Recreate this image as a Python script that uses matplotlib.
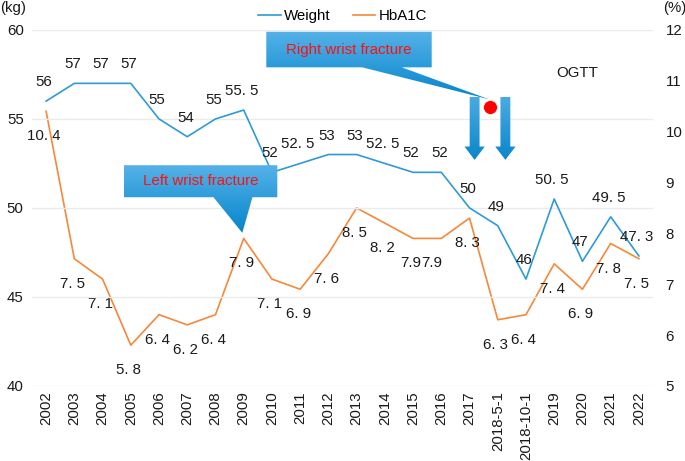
import numpy as np
from matplotlib import pyplot as plt
from matplotlib.colors import LinearSegmentedColormap
from matplotlib.lines import Line2D
from matplotlib.patches import FancyArrow, Polygon

plt.rcParams["font.family"] = ["Liberation Sans", "DejaVu Sans"]

years = ["2002", "2003", "2004", "2005", "2006", "2007", "2008", "2009", "2010",
         "2011", "2012", "2013", "2014", "2015", "2016", "2017", "2018-5-1",
         "2018-10-1", "2019", "2020", "2021", "2022"]
weight = [56, 57, 57, 57, 55, 54, 55, 55.5, 52, 52.5, 53, 53, 52.5, 52, 52, 50,
          49, 46, 50.5, 47, 49.5, 47.3]
hba1c = [10.4, 7.5, 7.1, 5.8, 6.4, 6.2, 6.4, 7.9, 7.1, 6.9, 7.6, 8.5, 8.2, 7.9,
         7.9, 8.3, 6.3, 6.4, 7.4, 6.9, 7.8, 7.5]

BLUE = "#2e9bd6"
ORANGE = "#f5883a"
FS = 10.8


def fmt(v):
    s = f"{v:g}"
    return s.replace(".", ". ")


weight_labels = [fmt(v) for v in weight]
hba1c_labels = [fmt(v) for v in hba1c]
hba1c_labels[13] = "7.9"
hba1c_labels[14] = "7.9"
# the two 2015/2016 labels sit right next to each other in the original
hba1c_dx = [-2] * len(hba1c)
hba1c_dx[14] = -10


def gradient_fill(ax, patch, top, bottom, z):
    patch.set_facecolor("none")
    patch.set_edgecolor("none")
    ax.add_patch(patch)
    xy = np.asarray(patch.get_xy())
    cmap = LinearSegmentedColormap.from_list("g", [top, bottom])
    im = ax.imshow(np.linspace(0, 1, 100).reshape(-1, 1), cmap=cmap,
                   aspect="auto", interpolation="bilinear", zorder=z,
                   extent=[xy[:, 0].min(), xy[:, 0].max(),
                           xy[:, 1].min(), xy[:, 1].max()])
    im.set_clip_path(patch)


def callout(ax, x0, x1, y0, y1, tb0, tb1, tip, text):
    verts = [(x0, y1), (x1, y1), (x1, y0), (tb1, y0), tip, (tb0, y0), (x0, y0)]
    gradient_fill(ax, Polygon(verts, closed=True), "#55b2e8", "#0585cc", 6)
    ax.text((x0 + x1) / 2, (y0 + y1) / 2, text, color="#ff1010", fontsize=FS,
            ha="center", va="center", zorder=7)


fig = plt.figure(figsize=(6.85, 4.61), dpi=100)
ax = fig.add_axes([0.0467, 0.163, 0.9066, 0.772])
ax2 = ax.twinx()
ax.set_zorder(ax2.get_zorder() + 1)
ax.patch.set_visible(False)

x = np.arange(len(years))
ax.plot(x, weight, color=BLUE, lw=1.2, zorder=3)
ax2.plot(x, hba1c, color=ORANGE, lw=1.2, zorder=3)

for xi, v, lab in zip(x, weight, weight_labels):
    ax.annotate(lab, (xi, v), xytext=(-2, 19), textcoords="offset pixels",
                ha="center", va="center", fontsize=FS, color="#1a1a1a", zorder=4)
for xi, v, lab, dx in zip(x, hba1c, hba1c_labels, hba1c_dx):
    ax2.annotate(lab, (xi, v), xytext=(dx, -25), textcoords="offset pixels",
                 ha="center", va="center", fontsize=FS, color="#1a1a1a", zorder=4)

# annotations
callout(ax, 7.8, 13.66, 57.9, 59.9, 11.2, 12.6, (15.7, 56.1), "Right wrist fracture")
callout(ax, 2.75, 8.19, 50.6, 52.4, 5.93, 7.31, (6.95, 48.6), "Left wrist fracture")
for ax_x in (15.18, 16.27):
    arr = FancyArrow(ax_x, 56.24, 0, -3.54, width=0.35, head_width=0.72,
                     head_length=0.75, length_includes_head=True)
    gradient_fill(ax, arr, "#4aaae2", "#0a86cc", 6)
ax.plot([15.71], [55.67], "o", ms=10, color="#ff0000", mec="white", mew=0.5,
        zorder=8)
ax.text(18.8, 57.6, "OGTT", fontsize=FS, ha="center", va="center",
        color="#1a1a1a", zorder=7)

ax.set_xlim(-0.5, len(years) - 0.5)
ax.set_ylim(40, 60)
ax2.set_ylim(5, 12)
ax.set_yticks([40, 45, 50, 55, 60])
ax2.set_yticks(range(5, 13))
ax.set_xticks(x)
ax.set_xticklabels(years, rotation=90)
ax.grid(axis="y", color="#ebebeb", lw=1)
for a in (ax, ax2):
    for s in a.spines.values():
        s.set_visible(False)
    a.tick_params(length=0, labelsize=FS, colors="#1a1a1a")
ax.tick_params(axis="y", pad=6)
ax2.tick_params(axis="y", pad=9)
ax.tick_params(axis="x", pad=4)

fig.text(0.0, 0.982, "(kg)", fontsize=FS, ha="left", va="center", color="#1a1a1a")
fig.text(0.968, 0.982, "(%)", fontsize=FS, ha="left", va="center", color="#1a1a1a")

handles = [Line2D([], [], color=BLUE, lw=1.2), Line2D([], [], color=ORANGE, lw=1.2)]
ax.legend(handles, ["Weight", "HbA1C"], loc="lower center",
          bbox_to_anchor=(0.5, 1.01), ncol=2, frameon=False, fontsize=FS,
          handlelength=1.5, handletextpad=0.2, columnspacing=1.5,
          borderaxespad=0.0, borderpad=0.2)

plt.savefig("out.png", dpi=100)
